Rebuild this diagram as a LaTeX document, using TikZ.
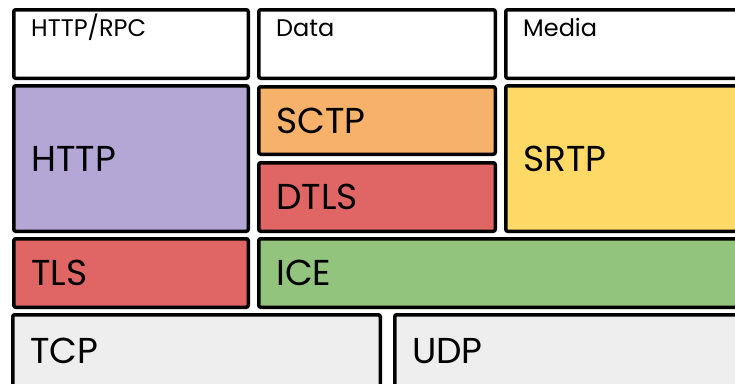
\documentclass[tikz,border=0pt]{standalone}
\usepackage{fontspec}
\setmainfont{Poppins}
\definecolor{cHTTP}{HTML}{B4A7D6}
\definecolor{cSCTP}{HTML}{F6B26B}
\definecolor{cRed}{HTML}{E06666}
\definecolor{cSRTP}{HTML}{FFD966}
\definecolor{cICE}{HTML}{93C47D}
\definecolor{cGray}{HTML}{EEEEEE}
\tikzset{
  layer/.style={draw=black, line width=3.5pt, rounded corners=2pt, outer sep=1.75pt,
    anchor=north west, inner sep=0pt},
  biglbl/.style={anchor=west, inner sep=0pt, font=\fontsize{36}{36}\selectfont},
  smalllbl/.style={anchor=base west, inner sep=0pt, font=\fontsize{24}{24}\selectfont},
}
\begin{document}
\begin{tikzpicture}[x=1pt,y=-1pt]
\useasboundingbox (0,0) rectangle (735,383);
\clip (0,0) rectangle (735,383);
% top row
\node[layer, fill=white, minimum width=234.5pt, minimum height=68.5pt] (httprpc) at (12,8) {};
\node[layer, fill=white, minimum width=236.5pt, minimum height=68.5pt] (data) at (257,8) {};
\node[layer, fill=white, minimum width=260pt, minimum height=68.5pt] (media) at (504,8) {};
% second row
\node[layer, fill=cHTTP, minimum width=234.5pt, minimum height=145.5pt] (http) at (12,84) {};
\node[layer, fill=cSCTP, minimum width=236.5pt, minimum height=67.5pt] (sctp) at (257,85) {};
\node[layer, fill=cRed, minimum width=236.5pt, minimum height=68.5pt] (dtls) at (257,161) {};
\node[layer, fill=cSRTP, minimum width=260pt, minimum height=145.5pt] (srtp) at (504,84) {};
% third row
\node[layer, fill=cRed, minimum width=234.5pt, minimum height=68.5pt] (tls) at (12,237) {};
\node[layer, fill=cICE, minimum width=500pt, minimum height=68.5pt] (ice) at (257,237) {};
% bottom row
\node[layer, fill=cGray, minimum width=367.5pt, minimum height=90pt] (tcp) at (11,313) {};
\node[layer, fill=cGray, minimum width=370pt, minimum height=90pt] (udp) at (393,313) {};
% labels
\node[smalllbl] (lhttprpc) at ([xshift=19pt,yshift=-28pt]httprpc.north west) {HTTP/RPC};
\node[smalllbl] (ldata) at ([xshift=19pt,yshift=-28pt]data.north west) {Data};
\node[smalllbl] (lmedia) at ([xshift=19pt,yshift=-28pt]media.north west) {Media};
\node[biglbl] (lhttp) at ([xshift=19pt]http.west) {HTTP};
\node[biglbl] (lsctp) at ([xshift=19pt]sctp.west) {SCTP};
\node[biglbl] (ldtls) at ([xshift=19pt]dtls.west) {DTLS};
\node[biglbl] (lsrtp) at ([xshift=19pt]srtp.west) {SRTP};
\node[biglbl] (ltls) at ([xshift=19pt]tls.west) {TLS};
\node[biglbl] (lice) at ([xshift=19pt]ice.west) {ICE};
\node[biglbl, anchor=base west] (ltcp) at ([xshift=19pt,yshift=-50pt]tcp.north west) {TCP};
\node[biglbl, anchor=base west] (ludp) at ([xshift=19pt,yshift=-50pt]udp.north west) {UDP};
\end{tikzpicture}
\end{document}
